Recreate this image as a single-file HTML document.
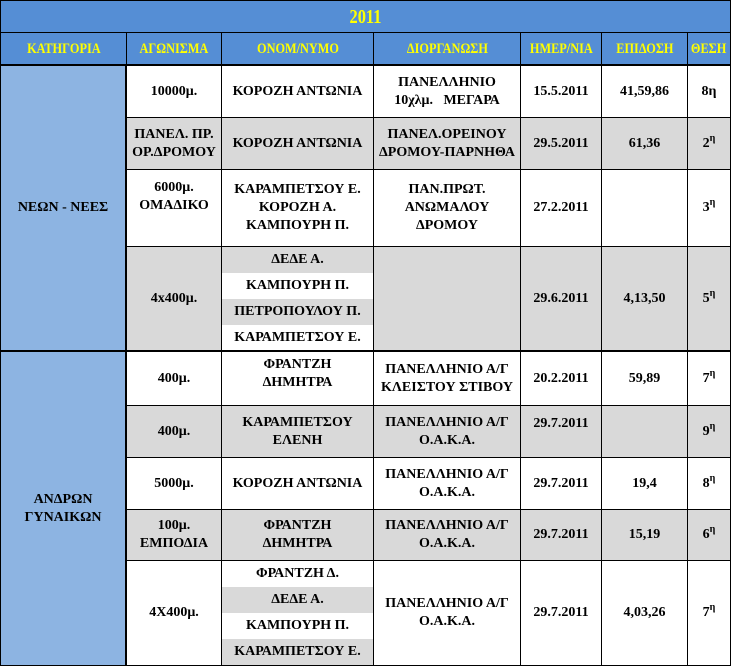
<!DOCTYPE html><html><head><meta charset="utf-8"><style>
body{margin:0;width:731px;height:667px;background:#fff;position:relative;overflow:hidden;font-family:"Liberation Serif","DejaVu Serif",serif;font-weight:bold;}
.c{position:absolute;box-sizing:border-box;border:1px solid #000;display:flex;align-items:center;justify-content:center;text-align:center;font-size:14px;line-height:18px;color:#000;}
.h{background:#558ED5;color:#FFFF00;font-size:15px;white-space:nowrap;}
.h span{display:inline-block;transform:scaleX(0.82);}
.g{background:#D9D9D9}
.w{background:#fff}
.n{border:none}
sup{font-size:10px;position:relative;top:-5px;vertical-align:baseline;line-height:0}
</style></head><body>
<div class="c h" style="left:0;top:0;width:731px;height:33px;font-size:20px"><span>2011</span></div>
<div class="c h" style="left:0;top:32px;width:127px;height:33px"><span>ΚΑΤΗΓΟΡΙΑ</span></div>
<div class="c h" style="left:126px;top:32px;width:96px;height:33px"><span>ΑΓΩΝΙΣΜΑ</span></div>
<div class="c h" style="left:221px;top:32px;width:153px;height:33px"><span>ΟΝΟΜ/ΝΥΜΟ</span></div>
<div class="c h" style="left:373px;top:32px;width:148px;height:33px"><span>ΔΙΟΡΓΑΝΩΣΗ</span></div>
<div class="c h" style="left:520px;top:32px;width:82px;height:33px"><span>ΗΜΕΡ/ΝΙΑ</span></div>
<div class="c h" style="left:601px;top:32px;width:87px;height:33px"><span>ΕΠΙΔΟΣΗ</span></div>
<div class="c h" style="left:687px;top:32px;width:44px;height:33px"><span>ΘΕΣΗ</span></div>

<div class="c" style="left:0;top:64px;width:127px;height:288px;background:#8DB4E2;border-width:2px 2px 2px 1px">ΝΕΩΝ - ΝΕΕΣ</div>
<div class="c" style="left:0;top:351px;width:127px;height:315px;background:#8DB4E2;border-width:1px 2px 1px 1px">ΑΝΔΡΩΝ<br>ΓΥΝΑΙΚΩΝ</div>

<div class="c w" style="left:126px;top:64px;width:96px;height:54px;border-top-width:2px">10000μ.</div>
<div class="c w" style="left:221px;top:64px;width:153px;height:54px;border-top-width:2px">ΚΟΡΟΖΗ ΑΝΤΩΝΙΑ</div>
<div class="c w" style="left:373px;top:64px;width:148px;height:54px;border-top-width:2px">ΠΑΝΕΛΛΗΝΙΟ<br>10χλμ. &nbsp; ΜΕΓΑΡΑ</div>
<div class="c w" style="left:520px;top:64px;width:82px;height:54px;border-top-width:2px">15.5.2011</div>
<div class="c w" style="left:601px;top:64px;width:87px;height:54px;border-top-width:2px">41,59,86</div>
<div class="c w" style="left:687px;top:64px;width:44px;height:54px;border-top-width:2px">8η</div>

<div class="c g" style="left:126px;top:117px;width:96px;height:53px">ΠΑΝΕΛ. ΠΡ.<br>ΟΡ.ΔΡΟΜΟΥ</div>
<div class="c g" style="left:221px;top:117px;width:153px;height:53px">ΚΟΡΟΖΗ ΑΝΤΩΝΙΑ</div>
<div class="c g" style="left:373px;top:117px;width:148px;height:53px">ΠΑΝΕΛ.ΟΡΕΙΝΟΥ<br>ΔΡΟΜΟΥ-ΠΑΡΝΗΘΑ</div>
<div class="c g" style="left:520px;top:117px;width:82px;height:53px">29.5.2011</div>
<div class="c g" style="left:601px;top:117px;width:87px;height:53px">61,36</div>
<div class="c g" style="left:687px;top:117px;width:44px;height:53px">2<sup>η</sup></div>

<div class="c w" style="left:126px;top:169px;width:96px;height:78px;align-items:flex-start;padding-top:9px">6000μ.<br>ΟΜΑΔΙΚΟ</div>
<div class="c w" style="left:221px;top:169px;width:153px;height:78px">ΚΑΡΑΜΠΕΤΣΟΥ Ε.<br>ΚΟΡΟΖΗ Α.<br>ΚΑΜΠΟΥΡΗ Π.</div>
<div class="c w" style="left:373px;top:169px;width:148px;height:78px">ΠΑΝ.ΠΡΩΤ.<br>ΑΝΩΜΑΛΟΥ<br>ΔΡΟΜΟΥ</div>
<div class="c w" style="left:520px;top:169px;width:82px;height:78px">27.2.2011</div>
<div class="c w" style="left:601px;top:169px;width:87px;height:78px"></div>
<div class="c w" style="left:687px;top:169px;width:44px;height:78px">3<sup>η</sup></div>

<div class="c g" style="left:126px;top:246px;width:96px;height:106px;border-bottom-width:2px">4x400μ.</div>
<div class="c g" style="left:221px;top:246px;width:153px;height:106px;border-bottom-width:2px"></div>
<div class="c g n" style="left:222px;top:247px;width:151px;height:26px">ΔΕΔΕ Α.</div>
<div class="c w n" style="left:222px;top:273px;width:151px;height:26px">ΚΑΜΠΟΥΡΗ Π.</div>
<div class="c g n" style="left:222px;top:299px;width:151px;height:26px">ΠΕΤΡΟΠΟΥΛΟΥ Π.</div>
<div class="c w n" style="left:222px;top:325px;width:151px;height:25px">ΚΑΡΑΜΠΕΤΣΟΥ Ε.</div>
<div class="c g" style="left:373px;top:246px;width:148px;height:106px;border-bottom-width:2px"></div>
<div class="c g" style="left:520px;top:246px;width:82px;height:106px;border-bottom-width:2px">29.6.2011</div>
<div class="c g" style="left:601px;top:246px;width:87px;height:106px;border-bottom-width:2px">4,13,50</div>
<div class="c g" style="left:687px;top:246px;width:44px;height:106px;border-bottom-width:2px">5<sup>η</sup></div>

<div class="c w" style="left:126px;top:351px;width:96px;height:55px">400μ.</div>
<div class="c w" style="left:221px;top:351px;width:153px;height:55px;align-items:flex-start;padding-top:4px">ΦΡΑΝΤΖΗ<br>ΔΗΜΗΤΡΑ</div>
<div class="c w" style="left:373px;top:351px;width:148px;height:55px">ΠΑΝΕΛΛΗΝΙΟ Α/Γ<br>ΚΛΕΙΣΤΟΥ ΣΤΙΒΟΥ</div>
<div class="c w" style="left:520px;top:351px;width:82px;height:55px">20.2.2011</div>
<div class="c w" style="left:601px;top:351px;width:87px;height:55px">59,89</div>
<div class="c w" style="left:687px;top:351px;width:44px;height:55px">7<sup>η</sup></div>

<div class="c g" style="left:126px;top:405px;width:96px;height:53px">400μ.</div>
<div class="c g" style="left:221px;top:405px;width:153px;height:53px">ΚΑΡΑΜΠΕΤΣΟΥ<br>ΕΛΕΝΗ</div>
<div class="c g" style="left:373px;top:405px;width:148px;height:53px">ΠΑΝΕΛΛΗΝΙΟ Α/Γ<br>Ο.Α.Κ.Α.</div>
<div class="c g" style="left:520px;top:405px;width:82px;height:53px;align-items:flex-start;padding-top:9px">29.7.2011</div>
<div class="c g" style="left:601px;top:405px;width:87px;height:53px"></div>
<div class="c g" style="left:687px;top:405px;width:44px;height:53px">9<sup>η</sup></div>

<div class="c w" style="left:126px;top:457px;width:96px;height:53px">5000μ.</div>
<div class="c w" style="left:221px;top:457px;width:153px;height:53px">ΚΟΡΟΖΗ ΑΝΤΩΝΙΑ</div>
<div class="c w" style="left:373px;top:457px;width:148px;height:53px">ΠΑΝΕΛΛΗΝΙΟ Α/Γ<br>Ο.Α.Κ.Α.</div>
<div class="c w" style="left:520px;top:457px;width:82px;height:53px">29.7.2011</div>
<div class="c w" style="left:601px;top:457px;width:87px;height:53px">19,4</div>
<div class="c w" style="left:687px;top:457px;width:44px;height:53px">8<sup>η</sup></div>

<div class="c g" style="left:126px;top:509px;width:96px;height:52px">100μ.<br>ΕΜΠΟΔΙΑ</div>
<div class="c g" style="left:221px;top:509px;width:153px;height:52px">ΦΡΑΝΤΖΗ<br>ΔΗΜΗΤΡΑ</div>
<div class="c g" style="left:373px;top:509px;width:148px;height:52px">ΠΑΝΕΛΛΗΝΙΟ Α/Γ<br>Ο.Α.Κ.Α.</div>
<div class="c g" style="left:520px;top:509px;width:82px;height:52px">29.7.2011</div>
<div class="c g" style="left:601px;top:509px;width:87px;height:52px">15,19</div>
<div class="c g" style="left:687px;top:509px;width:44px;height:52px">6<sup>η</sup></div>

<div class="c w" style="left:126px;top:560px;width:96px;height:106px">4Χ400μ.</div>
<div class="c w" style="left:221px;top:560px;width:153px;height:106px"></div>
<div class="c w n" style="left:222px;top:561px;width:151px;height:26px">ΦΡΑΝΤΖΗ Δ.</div>
<div class="c g n" style="left:222px;top:587px;width:151px;height:26px">ΔΕΔΕ Α.</div>
<div class="c w n" style="left:222px;top:613px;width:151px;height:26px">ΚΑΜΠΟΥΡΗ Π.</div>
<div class="c g n" style="left:222px;top:639px;width:151px;height:26px">ΚΑΡΑΜΠΕΤΣΟΥ Ε.</div>
<div class="c w" style="left:373px;top:560px;width:148px;height:106px">ΠΑΝΕΛΛΗΝΙΟ Α/Γ<br>Ο.Α.Κ.Α.</div>
<div class="c w" style="left:520px;top:560px;width:82px;height:106px">29.7.2011</div>
<div class="c w" style="left:601px;top:560px;width:87px;height:106px">4,03,26</div>
<div class="c w" style="left:687px;top:560px;width:44px;height:106px">7<sup>η</sup></div>
</body></html>
